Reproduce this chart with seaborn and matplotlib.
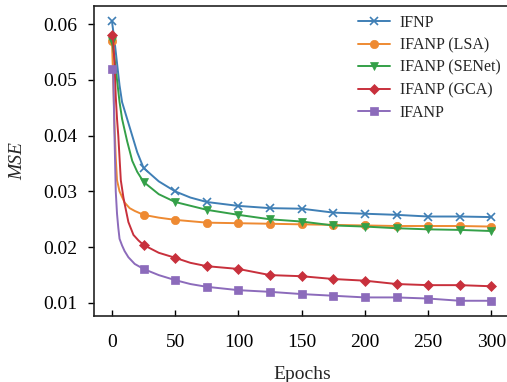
import matplotlib
matplotlib.use("Agg")
import matplotlib.pyplot as plt
import seaborn as sns

# ---- data ----
ifnp_ep = [0, 2, 4, 6, 8, 10, 12, 16, 20, 25, 37, 50, 62, 75, 100, 125, 150, 175, 200, 225, 250, 275, 300]
ifnp_mse = [0.0605, 0.057, 0.053, 0.049, 0.046, 0.0445, 0.043, 0.040, 0.037, 0.0342, 0.0318, 0.0300,
            0.0289, 0.0281, 0.0274, 0.0270, 0.0269, 0.0262, 0.0260, 0.0258, 0.0255, 0.0255, 0.0254]

lsa_ep = [0, 1, 2, 3, 4, 6, 10, 14, 18, 25, 37, 50, 75, 100, 125, 150, 175, 200, 225, 250, 275, 300]
lsa_mse = [0.057, 0.050, 0.042, 0.036, 0.032, 0.030, 0.028, 0.0270, 0.0265, 0.0258, 0.0253, 0.0249,
           0.0244, 0.0243, 0.0242, 0.0241, 0.0240, 0.0239, 0.0238, 0.0238, 0.0238, 0.0237]

senet_ep = [0, 2, 4, 6, 8, 12, 16, 20, 25, 37, 50, 75, 100, 125, 150, 175, 200, 225, 250, 275, 300]
senet_mse = [0.057, 0.054, 0.050, 0.046, 0.043, 0.039, 0.0355, 0.0335, 0.0317, 0.0295, 0.0281, 0.0267,
             0.0258, 0.0250, 0.0246, 0.0239, 0.0237, 0.0234, 0.0232, 0.0231, 0.0229]

gca_ep = [0, 1, 2, 3, 4, 5, 7, 9, 10, 13, 17, 21, 25, 37, 50, 62, 75, 100, 125, 150, 175, 200, 225, 250, 275, 300]
gca_mse = [0.058, 0.057, 0.053, 0.047, 0.043, 0.040, 0.032, 0.029, 0.0278, 0.0245, 0.0222, 0.0212, 0.0204,
           0.0190, 0.0181, 0.0172, 0.0166, 0.0161, 0.0150, 0.0148, 0.0143, 0.0140, 0.0134, 0.0132, 0.0132, 0.0130]

ifanp_ep = [0, 1, 2, 3, 4, 5, 6, 8, 10, 13, 18, 25, 37, 50, 62, 75, 100, 125, 150, 175, 200, 225, 250, 275, 300]
ifanp_mse = [0.052, 0.051, 0.040, 0.030, 0.026, 0.0235, 0.0215, 0.0203, 0.0193, 0.0182, 0.0170, 0.0161,
             0.0150, 0.0141, 0.0134, 0.0129, 0.0123, 0.0120, 0.0116, 0.0113, 0.0110, 0.0110, 0.0108, 0.0104, 0.0104]

series = [
    ("IFNP", ifnp_ep, ifnp_mse, "#3f7fb5", "x"),
    ("IFANP (LSA)", lsa_ep, lsa_mse, "#ee8a32", "o"),
    ("IFANP (SENet)", senet_ep, senet_mse, "#34a048", "v"),
    ("IFANP (GCA)", gca_ep, gca_mse, "#c8303c", "D"),
    ("IFANP", ifanp_ep, ifanp_mse, "#8c6bbb", "s"),
]

sns.set_theme(style="ticks")
plt.rcParams["font.family"] = ["Liberation Serif", "DejaVu Serif"]

fig = plt.figure(figsize=(5.07, 3.82), dpi=100)
ax = fig.add_axes([94 / 507, 66 / 382, 416 / 507, 310 / 382])

for name, ep, mse, color, marker in series:
    marks = [i for i, e in enumerate(ep) if e % 25 == 0]
    sns.lineplot(x=ep, y=mse, ax=ax, color=color, marker=marker, markevery=marks,
                 markersize=6 if marker != "D" else 5, markeredgewidth=1.2 if marker == "x" else 0.5,
                 markeredgecolor=color, linewidth=1.4, label=name)

ax.set_xlim(-14.2, 314.7)
ax.set_ylim(0.00767, 0.06323)
ax.set_xticks([0, 50, 100, 150, 200, 250, 300])
ax.set_yticks([0.01, 0.02, 0.03, 0.04, 0.05, 0.06])
ax.set_yticklabels(["0.01", "0.02", "0.03", "0.04", "0.05", "0.06"])
ax.tick_params(axis="x", direction="in", length=4, width=1, pad=13, labelsize=14, colors="black")
ax.tick_params(axis="y", direction="out", length=4, width=1, pad=8, labelsize=14, colors="black")
for side in ("left", "bottom", "top"):
    ax.spines[side].set_color("#222222")
    ax.spines[side].set_linewidth(1.2)
ax.spines["right"].set_visible(False)

ax.set_xlabel("Epochs", fontsize=14, labelpad=11)
ax.set_ylabel("MSE", fontsize=14, fontstyle="italic", labelpad=12)

ax.legend(loc="upper left", bbox_to_anchor=(358 / 507, 1 - 15 / 382), bbox_transform=fig.transFigure,
          frameon=False, fontsize=11.5, handlelength=2.0, handletextpad=0.6, labelspacing=0.4,
          borderpad=0, borderaxespad=0)

fig.savefig("out.png", dpi=100)
